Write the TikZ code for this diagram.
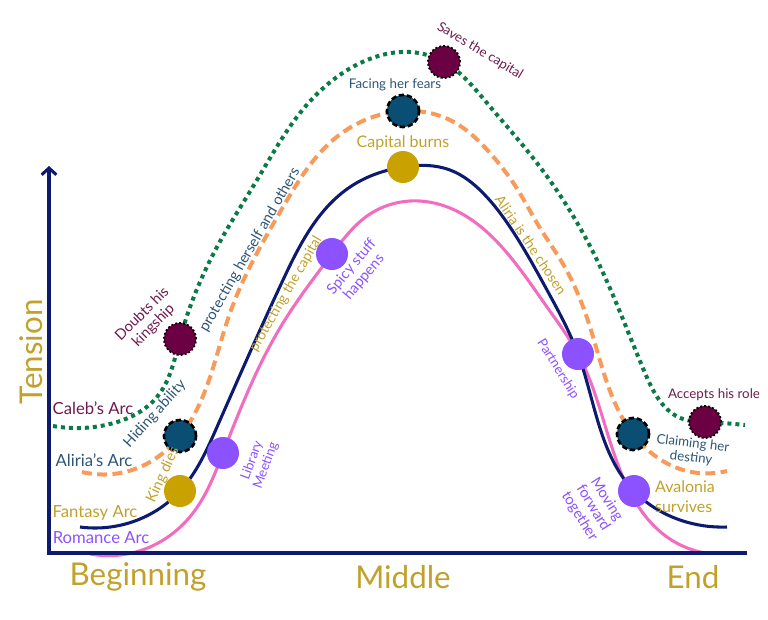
\documentclass[tikz,border=0pt]{standalone}
\usepackage{fontspec}
\setmainfont{Lato}
\usetikzlibrary{arrows.meta,backgrounds,hobby}
\definecolor{navyc}{HTML}{0C1A70}
\definecolor{pinkc}{HTML}{F26CC0}
\definecolor{orangec}{HTML}{F79A5A}
\definecolor{greenc}{HTML}{0B7A46}
\definecolor{maroonc}{HTML}{6B0042}
\definecolor{tealc}{HTML}{0B4E73}
\definecolor{goldc}{HTML}{C9A100}
\definecolor{purplec}{HTML}{8C52FF}
\definecolor{goldtext}{HTML}{C1A12A}
\definecolor{tealtext}{HTML}{2C5576}
\definecolor{maroontext}{HTML}{6E1A4C}
\begin{document}
\begin{tikzpicture}[x=0.75pt,y=-0.75pt,
  dotbase/.style={circle,minimum size=24pt,inner sep=0pt},
  maroondot/.style={dotbase,fill=maroonc,draw=black,line width=1.4pt,dash pattern=on 1.4pt off 1.6pt},
  tealdash/.style={dotbase,fill=tealc,draw=black,line width=2pt,dash pattern=on 4pt off 2pt},
  golddot/.style={dotbase,fill=goldc},
  purpledot/.style={dotbase,fill=purplec},
  romance/.style={pinkc,line width=2.3pt},
  fantasy/.style={navyc,line width=2.3pt},
  aliria/.style={orangec,line width=3pt,dash pattern=on 7.5pt off 4pt},
  caleb/.style={greenc,line width=3pt,dash pattern=on 3pt off 3pt},
  axis/.style={navyc,line width=2.3pt},
  lab/.style={font=\fontsize{10}{11}\selectfont,inner sep=0pt,align=center},
  labm/.style={lab,font=\fontsize{11}{12}\selectfont},
  labs/.style={lab,font=\fontsize{10.5}{11}\selectfont},
  arcl/.style={lab,font=\fontsize{12.5}{13}\selectfont},
  big/.style={font=\fontsize{23.5}{25}\selectfont,inner sep=0pt,text=goldtext}
]
\useasboundingbox (0,0) rectangle (768,619);

% plot points
\node[maroondot] (doubts) at (180,339) {};
\node[tealdash] (hiding) at (180,436) {};
\node[golddot] (kingdies) at (180,491) {};
\node[purpledot] (library) at (223,453) {};
\node[purpledot] (spicy) at (332,254) {};
\node[golddot] (capital) at (403,167) {};
\node[tealdash] (facing) at (403,111) {};
\node[maroondot] (saves) at (444,62) {};
\node[purpledot] (partner) at (578,354) {};
\node[tealdash] (claiming) at (633,434) {};
\node[maroondot] (accepts) at (705,422) {};
\node[purpledot] (avalonia) at (634,491) {};

% curve ends
\coordinate (rs) at (90,554);
\coordinate (re) at (705,553);
\coordinate (fs) at (80,527);
\coordinate (fe) at (727,527);
\coordinate (as) at (82,472);
\coordinate (ae) at (727,471);
\coordinate (cs) at (53,426);
\coordinate (ce) at (745,425);

% axes
\coordinate (origin) at (49,553);
\coordinate (ytop) at (49,166);
\coordinate (xend) at (747,553);

\begin{scope}[on background layer]
\draw[romance,use Hobby shortcut] (rs) .. (150,547) .. (193,513) .. (library.center) .. (283,323) .. (spicy.center) .. (370,214) .. (410,201) .. (450,208) .. (500,245) .. (547,307) .. (partner.center) .. (620,470) .. (667,537) .. (re);
\draw[fantasy,use Hobby shortcut] (fs) .. (140,519) .. (kingdies.center) .. (217,427) .. (283,280) .. (350,187) .. (capital.center) .. (450,170) .. (483,193) .. (512,230) .. (547,290) .. (partner.center) .. (avalonia.center) .. (680,520) .. (fe);
\draw[aliria,use Hobby shortcut] (as) .. (140,467) .. (hiding.center) .. (230,313) .. (283,207) .. (333,140) .. (facing.center) .. (450,120) .. (490,153) .. (516,187) .. (540,228) .. (563,264) .. (590,327) .. (claiming.center) .. (680,469) .. (ae);
\draw[caleb,use Hobby shortcut] (cs) .. (110,424) .. (157,397) .. (doubts.center) .. (217,247) .. (257,180) .. (300,113) .. (367,60) .. (410,52) .. (saves.center) .. (487,103) .. (537,163) .. (597,260) .. (645,373) .. (683,419) .. (accepts.center) .. (ce);
\end{scope}

\draw[axis,{Straight Barb[length=5pt,width=11pt]}-] (ytop) -- (origin) -- (xend);

% axis labels
\node[big,rotate=90] (tension) at (31,352) {Tension};
\node[big] (beginning) at (138,577) {Beginning};
\node[big] (middle) at (403,577) {Middle};
\node[big] (end) at (693,577) {End};

% arc labels
\node[arcl,text=maroontext] (calebl) at (93,408) {Caleb’s Arc};
\node[arcl,text=tealtext] (alirial) at (94,460) {Aliria’s Arc};
\node[arcl,text=goldtext] (fantasyl) at (95,513) {Fantasy Arc};
\node[arcl,text=purplec] (romancel) at (101,538) {Romance Arc};

% event labels
\node[labm,text=maroontext,rotate=45] (doubtsl) at (148,320) {Doubts his\\kingship};
\node[labm,text=tealtext,rotate=48] (hidingl) at (155,414) {Hiding ability};
\node[labm,text=goldtext,rotate=65] (kingl) at (163,475) {King dies};
\node[lab,text=purplec,rotate=70] (libraryl) at (259,463) {Library\\Meeting};
\node[labs,text=goldtext,rotate=60] (protcap) at (286,294) {protecting the capital};
\node[labm,text=tealtext,rotate=60] (protself) at (250,250) {protecting herself and others};
\node[labm,text=purplec,rotate=50] (spicyl) at (358,272) {Spicy stuff\\happens};
\node[lab,text=goldtext,font=\fontsize{12}{13}\selectfont] (capitall) at (403,143) {Capital burns};
\node[lab,text=tealtext] (facingl) at (395,85) {Facing her fears};
\node[lab,text=maroontext,rotate=-31] (savesl) at (480,51) {Saves the capital};
\node[labs,text=goldtext,rotate=-56] (chosenl) at (531,245) {Aliria is the chosen};
\node[lab,text=purplec,rotate=-58] (partnerl) at (558,369) {Partnership};
\node[labm,text=purplec,rotate=-58] (movingl) at (593,508) {Moving\\forward\\together};
\node[lab,text=maroontext] (acceptsl) at (714,395) {Accepts his role};
\node[lab,text=tealtext,rotate=-7] (claimingl) at (692,451) {Claiming her\\destiny};
\node[lab,text=goldtext,align=left,font=\fontsize{12}{15}\selectfont] (avalonial) at (685,497) {Avalonia\\survives};
\end{tikzpicture}
\end{document}
